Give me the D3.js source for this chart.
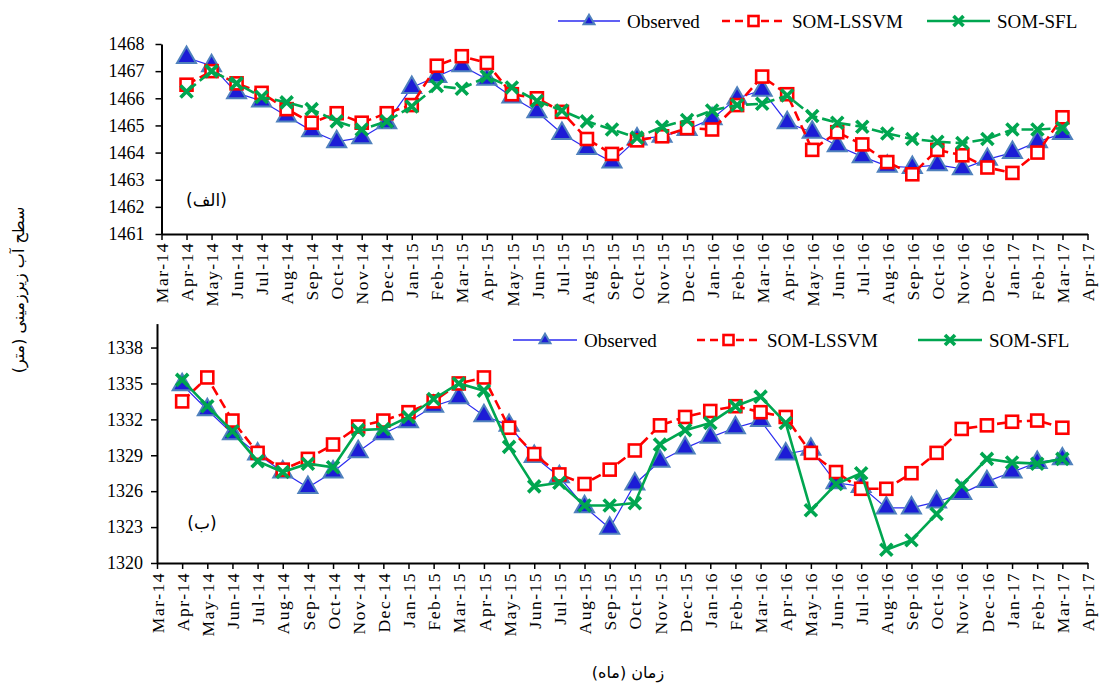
<!DOCTYPE html>
<html>
<head>
<meta charset="utf-8">
<script src="https://cdn.jsdelivr.net/npm/d3@7"></script>
<style>
  body { margin: 0; background: #fff; }
  svg { display: block; font-family: "Liberation Serif", "Times New Roman", serif; }
</style>
</head>
<body>
<svg id="chart" width="1099" height="685"></svg>
<script>
// month labels on the x axis (first and last have no data)
const months = ['Mar-14', 'Apr-14', 'May-14', 'Jun-14', 'Jul-14', 'Aug-14', 'Sep-14', 'Oct-14', 'Nov-14', 'Dec-14',
  'Jan-15', 'Feb-15', 'Mar-15', 'Apr-15', 'May-15', 'Jun-15', 'Jul-15', 'Aug-15', 'Sep-15', 'Oct-15', 'Nov-15', 'Dec-15',
  'Jan-16', 'Feb-16', 'Mar-16', 'Apr-16', 'May-16', 'Jun-16', 'Jul-16', 'Aug-16', 'Sep-16', 'Oct-16', 'Nov-16', 'Dec-16',
  'Jan-17', 'Feb-17', 'Mar-17', 'Apr-17'];
const dataMonths = months.slice(1, 37);

// panel (الف)
const topObserved = [1467.5, 1467.2, 1466.2, 1465.9, 1465.35, 1464.8, 1464.4, 1464.55, 1465.1, 1466.4, 1466.8, 1467.2,
  1466.7, 1466.05, 1465.5, 1464.7, 1464.15, 1463.65, 1464.5, 1464.6, 1464.85, 1465.25, 1466.0, 1466.3,
  1465.1, 1464.75, 1464.25, 1463.85, 1463.5, 1463.45, 1463.55, 1463.4, 1463.75, 1464.0, 1464.4, 1464.7];
const topLssvm = [1466.5, 1467.0, 1466.55, 1466.2, 1465.6, 1465.1, 1465.45, 1465.1, 1465.45, 1465.75, 1467.2, 1467.55,
  1467.3, 1466.15, 1466.0, 1465.5, 1464.5, 1463.95, 1464.45, 1464.6, 1464.9, 1464.85, 1465.75, 1466.8,
  1466.15, 1464.1, 1464.75, 1464.3, 1463.65, 1463.2, 1464.1, 1463.9, 1463.45, 1463.25, 1464.0, 1465.3];
const topSfl = [1466.25, 1467.0, 1466.55, 1466.05, 1465.85, 1465.6, 1465.15, 1464.85, 1465.15, 1465.7, 1466.45, 1466.35,
  1466.8, 1466.4, 1465.9, 1465.55, 1465.15, 1464.85, 1464.55, 1464.95, 1465.2, 1465.55, 1465.75, 1465.8,
  1466.1, 1465.35, 1465.1, 1464.95, 1464.7, 1464.5, 1464.4, 1464.35, 1464.5, 1464.85, 1464.85, 1464.9];

// panel (ب)
const bottomObserved = [1334.9, 1332.8, 1330.8, 1329.1, 1327.6, 1326.3, 1327.6, 1329.3, 1330.8, 1331.8, 1333.1, 1333.8,
  1332.3, 1331.5, 1328.9, 1327.2, 1324.7, 1322.9, 1326.6, 1328.5, 1329.6, 1330.5, 1331.3, 1331.9,
  1329.1, 1329.5, 1326.7, 1326.4, 1324.6, 1324.6, 1325.1, 1325.8, 1326.8, 1327.6, 1328.4, 1328.7];
const bottomLssvm = [1333.5, 1335.5, 1331.9, 1329.2, 1327.8, 1328.7, 1329.9, 1331.4, 1331.9, 1332.6, 1333.5, 1335.0,
  1335.5, 1331.3, 1329.1, 1327.4, 1326.6, 1327.8, 1329.4, 1331.5, 1332.2, 1332.7, 1333.1, 1332.6,
  1332.2, 1329.2, 1327.6, 1326.2, 1326.2, 1327.5, 1329.2, 1331.2, 1331.5, 1331.8, 1331.9, 1331.3];
const bottomSfl = [1335.3, 1333.1, 1331.0, 1328.5, 1327.6, 1328.3, 1328.0, 1331.1, 1331.2, 1332.2, 1333.7, 1335.0,
  1334.4, 1329.7, 1326.4, 1326.7, 1324.8, 1324.8, 1325.0, 1329.9, 1331.1, 1331.7, 1333.1, 1333.9,
  1331.7, 1324.4, 1326.6, 1327.5, 1321.1, 1321.9, 1324.1, 1326.5, 1328.7, 1328.4, 1328.3, 1328.7];

const seriesNames = ['Observed', 'SOM-LSSVM', 'SOM-SFL'];
const topTicks = d3.range(1461, 1469, 1);
const bottomTicks = d3.range(1320, 1339, 3);
const yTitle = 'سطح آب زیرزمینی (متر)';
const xTitle = 'زمان (ماه)';

const BLUE_LINE = '#2b2bf0', BLUE_FILL = '#1c1cd6', BLUE_EDGE = '#4f81bd';
const RED = '#ff0000', GREEN = '#00a650';
const SERIF = '"Liberation Serif", "Times New Roman", serif';

const svg = d3.select('#chart');

function marker(g, type, cx, cy, s) {
  if (type === 'tri') {
    g.append('path')
      .attr('d', d3.symbol(d3.symbolTriangle, 0.433 * s * s)())
      .attr('transform', `translate(${cx},${cy})`)
      .attr('fill', BLUE_FILL).attr('stroke', BLUE_EDGE).attr('stroke-width', 2);
  } else if (type === 'sq') {
    g.append('rect')
      .attr('x', cx - s / 2).attr('y', cy - s / 2).attr('width', s).attr('height', s)
      .attr('fill', '#fff').attr('stroke', RED).attr('stroke-width', 2.6);
  } else {
    const h = s / 2;
    g.append('path')
      .attr('d', `M${cx - h},${cy - h}L${cx + h},${cy + h}M${cx - h},${cy + h}L${cx + h},${cy - h}`)
      .attr('stroke', GREEN).attr('stroke-width', 3.6).attr('fill', 'none');
  }
}

function drawPanel(p) {
  const x = d3.scalePoint().domain(months).range([p.left, p.right]);
  const y = d3.scaleLinear().domain(p.domain).range([p.bottom, p.top]);

  const gx = svg.append('g')
    .attr('transform', `translate(0,${p.bottom})`)
    .call(d3.axisBottom(x).tickSizeInner(6).tickSizeOuter(0));
  gx.attr('font-family', SERIF);
  gx.selectAll('text')
    .attr('transform', 'rotate(-90)')
    .attr('x', -p.labelGap).attr('y', 0).attr('dy', '0.35em')
    .style('text-anchor', 'end')
    .style('font-size', '17.5px')
    .style('letter-spacing', '1.5px')
    .attr('fill', '#000');

  const gy = svg.append('g')
    .attr('transform', `translate(${p.left},0)`)
    .call(d3.axisLeft(y).tickValues(p.ticks).tickFormat(d3.format('d')).tickSizeInner(6).tickSizeOuter(0).tickPadding(p.pad));
  gy.attr('font-family', SERIF);
  gy.selectAll('text')
    .style('font-size', '18px')
    .attr('fill', '#000');

  [gx, gy].forEach(g => {
    g.select('.domain').attr('stroke', '#000').attr('stroke-width', 2);
    g.selectAll('.tick line').attr('stroke', '#000').attr('stroke-width', 1.5);
  });

  const line = d3.line().x((d, i) => x(dataMonths[i])).y(d => y(d));

  const series = [
    { values: p.observed, color: BLUE_LINE, width: 1.2, dash: null, type: 'tri', size: 19 },
    { values: p.lssvm, color: RED, width: 2.6, dash: '10,5', type: 'sq', size: 12 },
    { values: p.sfl, color: GREEN, width: 2.6, dash: p.sflDash, type: 'x', size: 12 }
  ];

  series.forEach(s => {
    const g = svg.append('g');
    g.append('path')
      .datum(s.values)
      .attr('d', line)
      .attr('fill', 'none')
      .attr('stroke', s.color)
      .attr('stroke-width', s.width)
      .attr('stroke-dasharray', s.dash);
    s.values.forEach((v, i) => marker(g, s.type, x(dataMonths[i]), y(v), s.size));
  });

  // panel letter
  svg.append('text')
    .attr('x', p.left + 45).attr('y', p.labelY)
    .attr('direction', 'rtl')
    .style('font-family', '"DejaVu Sans", sans-serif')
    .style('font-size', '17px')
    .attr('text-anchor', 'middle')
    .text(p.label);

  // legend
  const lg = svg.append('g').attr('font-family', SERIF);
  const L = p.legend;
  const styles = [
    { color: BLUE_LINE, width: 1.4, dash: null, type: 'tri', size: 11 },
    { color: RED, width: 2.6, dash: '8,5', type: 'sq', size: 10 },
    { color: GREEN, width: 2.6, dash: null, type: 'x', size: 10 }
  ];
  seriesNames.forEach((name, i) => {
    const it = L.items[i], st = styles[i];
    lg.append('line')
      .attr('x1', it.x0).attr('x2', it.x1).attr('y1', L.y).attr('y2', L.y)
      .attr('stroke', st.color).attr('stroke-width', st.width)
      .attr('stroke-dasharray', st.dash);
    marker(lg, st.type, (it.x0 + it.x1) / 2, L.y, st.size);
    lg.append('text')
      .attr('x', it.x1 + 7).attr('y', L.y).attr('dy', '0.35em')
      .style('font-size', '19px')
      .text(name);
  });
}

drawPanel({
  left: 161.5, right: 1087.5, top: 44, bottom: 234, domain: [1461, 1468], ticks: topTicks, pad: 11, labelGap: 8,
  observed: topObserved, lssvm: topLssvm, sfl: topSfl, sflDash: '12,5',
  label: '(الف)', labelY: 206,
  legend: { y: 21, items: [{ x0: 558, x1: 620 }, { x0: 722, x1: 785 }, { x0: 927, x1: 990 }] }
});

drawPanel({
  left: 157, right: 1087.5, top: 323.6, bottom: 563, domain: [1320, 1340], ticks: bottomTicks, pad: 8, labelGap: 9,
  observed: bottomObserved, lssvm: bottomLssvm, sfl: bottomSfl, sflDash: null,
  label: '(ب)', labelY: 529,
  legend: { y: 340, items: [{ x0: 513, x1: 577 }, { x0: 697, x1: 760 }, { x0: 918, x1: 982 }] }
});

// axis titles
svg.append('text')
  .attr('transform', 'translate(24,290) rotate(-90)')
  .attr('text-anchor', 'middle')
  .attr('direction', 'rtl')
  .style('font-family', '"DejaVu Sans", sans-serif')
  .style('font-size', '16px')
  .text(yTitle);

svg.append('text')
  .attr('x', 628).attr('y', 678)
  .attr('text-anchor', 'middle')
  .attr('direction', 'rtl')
  .style('font-family', '"DejaVu Sans", sans-serif')
  .style('font-size', '16px')
  .text(xTitle);
</script>
</body>
</html>
